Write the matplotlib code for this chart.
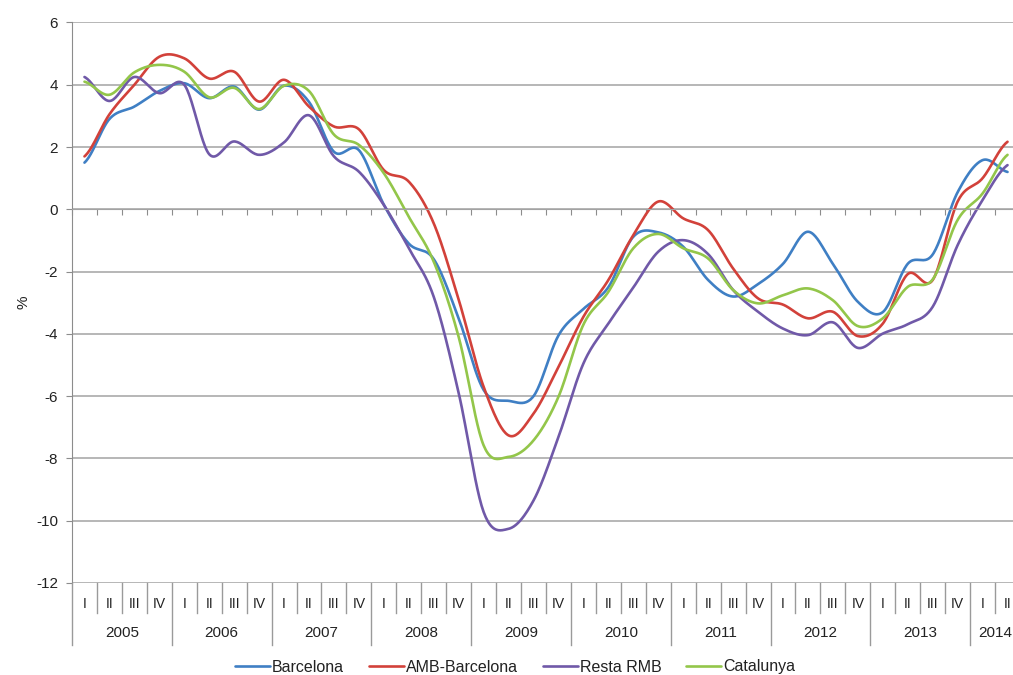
import numpy as np
import matplotlib
matplotlib.use('Agg')
import matplotlib.pyplot as plt
import matplotlib.transforms as mtransforms
from matplotlib.lines import Line2D

plt.rcParams['font.family'] = ['Liberation Sans', 'DejaVu Sans']
plt.rcParams['axes.unicode_minus'] = False

# dades trimestrals 2005 I - 2014 II
years = ['2005', '2006', '2007', '2008', '2009', '2010', '2011', '2012', '2013', '2014']
quarters = ['I', 'II', 'III', 'IV']
n_quarters = 38

barcelona = [1.5, 2.9, 3.3, 3.8, 4.05, 3.57, 3.94, 3.2, 3.97, 3.45,
             1.85, 1.9, 0.15, -1.1, -1.6, -3.5, -5.8, -6.15, -6.0, -4.05,
             -3.2, -2.5, -0.88, -0.74, -1.2, -2.27, -2.8, -2.4, -1.75, -0.72,
             -1.75, -2.97, -3.3, -1.75, -1.45, 0.55, 1.58, 1.2]
amb_barcelona = [1.7, 3.05, 4.0, 4.9, 4.85, 4.2, 4.42, 3.46, 4.16, 3.3,
                 2.66, 2.57, 1.26, 0.89, -0.45, -2.9, -5.7, -7.26, -6.56, -5.06,
                 -3.45, -2.27, -0.83, 0.25, -0.29, -0.67, -1.9, -2.86, -3.06, -3.5,
                 -3.29, -4.07, -3.67, -2.08, -2.27, 0.25, 1.0, 2.17]
resta_rmb = [4.25, 3.48, 4.25, 3.73, 4.0, 1.77, 2.18, 1.75, 2.15, 3.02,
             1.7, 1.21, 0.14, -1.25, -2.81, -5.9, -9.72, -10.26, -9.35, -7.31,
             -4.95, -3.67, -2.51, -1.36, -0.99, -1.44, -2.59, -3.29, -3.83, -4.04,
             -3.63, -4.45, -3.99, -3.69, -3.13, -1.15, 0.3, 1.42]
catalunya = [4.1, 3.68, 4.4, 4.64, 4.42, 3.6, 3.9, 3.22, 3.97, 3.8,
             2.4, 2.07, 1.16, -0.24, -1.68, -4.1, -7.58, -7.95, -7.42, -6.02,
             -3.7, -2.65, -1.25, -0.79, -1.25, -1.58, -2.59, -3.02, -2.76, -2.54,
             -2.92, -3.75, -3.5, -2.49, -2.25, -0.34, 0.51, 1.75]

series = [('Barcelona', barcelona, '#3F7FC4'),
          ('AMB-Barcelona', amb_barcelona, '#D2413A'),
          ('Resta RMB', resta_rmb, '#7059A8'),
          ('Catalunya', catalunya, '#93C64A')]


# suavitzat tipus Excel (Bezier amb punts de control de Catmull-Rom)
def smooth(y, n=24):
    y = np.asarray(y, float)
    p = np.concatenate([[y[0]], y, [y[-1]]])
    t = np.linspace(0, 1, n, endpoint=False)
    xs, ys = [], []
    for i in range(len(y) - 1):
        p0, p1, p2, p3 = p[i], p[i + 1], p[i + 2], p[i + 3]
        c1 = p1 + (p2 - p0) / 6
        c2 = p2 - (p3 - p1) / 6
        b = (1 - t) ** 3 * p1 + 3 * (1 - t) ** 2 * t * c1 + 3 * (1 - t) * t ** 2 * c2 + t ** 3 * p2
        xs.append(i + t)
        ys.append(b)
    xs.append([len(y) - 1])
    ys.append([y[-1]])
    return np.concatenate(xs) + 0.5, np.concatenate(ys)


fig = plt.figure(figsize=(10.13, 6.75), dpi=100)
ax = fig.add_axes([72 / 1013, 92 / 675, 948 / 1013, 560.5 / 675])

for name, vals, col in series:
    xs, ys = smooth(vals)
    ax.plot(xs, ys, color=col, lw=1.9, label=name, solid_capstyle='round')

ax.set_xlim(0, n_quarters)
ax.set_ylim(-12, 6)
ax.set_yticks(range(-12, 7, 2))
ax.yaxis.grid(True, color='#a3a3a3', lw=1.1)
ax.set_axisbelow(True)
for s in ['top', 'right']:
    ax.spines[s].set_visible(False)
ax.spines['left'].set_color('#8c8c8c')
ax.spines['bottom'].set_position(('data', 0))
ax.spines['bottom'].set_color('#a3a3a3')
ax.set_xticks(range(0, n_quarters + 1))
ax.set_xticklabels([])
ax.tick_params(axis='x', direction='out', length=4, color='#8c8c8c')
ax.tick_params(axis='y', direction='out', length=4, color='#8c8c8c', pad=6,
               labelsize=11, labelcolor='#222222')
ax.set_ylabel('%', fontsize=11, color='#222222', labelpad=4)

# etiquetes de categoria (trimestres i anys)
tr = mtransforms.blended_transform_factory(ax.transData, fig.transFigure)
y_top = 1 - 583 / 675
y_q = 1 - 613 / 675
y_y = 1 - 645 / 675
for k in range(n_quarters + 1):
    bottom = y_y if k % 4 == 0 else y_q
    fig.add_artist(Line2D([k, k], [y_top, bottom], transform=tr, color='#9a9a9a', lw=1))
for k in range(n_quarters):
    ax.text(k + 0.5, 1 - 604 / 675, quarters[k % 4], transform=tr, ha='center', va='center',
            fontsize=10, color='#222222')
for j, yr in enumerate(years):
    start = 4 * j
    end = min(start + 4, n_quarters)
    ax.text((start + end) / 2, 1 - 633 / 675, yr, transform=tr, ha='center', va='center',
            fontsize=11, color='#222222')

fig.legend(loc='center', bbox_to_anchor=(515 / 1013, 1 - 667 / 675), ncol=4, frameon=False,
           fontsize=11.5, handlelength=2.2, handletextpad=0.12, columnspacing=1.55)
for t in fig.legends[0].get_texts():
    t.set_color('#222222')

fig.savefig('out.png', dpi=100)
